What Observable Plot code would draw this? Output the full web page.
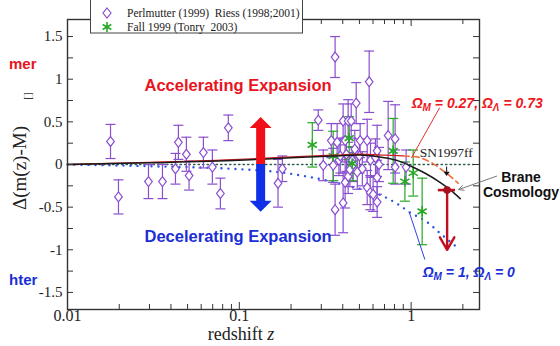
<!DOCTYPE html>
<html><head><meta charset="utf-8">
<script src="https://cdn.jsdelivr.net/npm/d3@7"></script>
<script src="https://cdn.jsdelivr.net/npm/@observablehq/plot@0.6"></script>
<style>
body{margin:0;background:#fff}
#chart{position:relative;width:560px;height:346px;overflow:hidden}
</style>
</head><body><div id="chart"></div>
<script>
// ---- data: Perlmutter / Riess supernovae (purple diamonds)
const perlZ = [0.0178,0.0198,0.0296,0.0357,0.0425,0.0442,0.0492,0.051,0.0618,0.0697,0.0776,0.0863,
  0.168,0.178,0.288,0.308,0.343,0.352,0.361,0.361,0.371,0.38,0.387,0.402,0.402,0.413,0.413,0.42,0.43,0.43,0.44,0.448,
  0.455,0.46,0.47,0.479,0.486,0.5,0.505,0.52,0.555,0.555,0.57,0.578,0.58,0.601,0.62,0.634,0.634,0.634,0.65,0.735,0.807,0.807,0.935];
const perlV = [0.27,-0.38,-0.20,-0.20,-0.05,0.26,0.12,-0.13,0.14,-0.03,-0.34,0.43,
  -0.22,-0.05,0.52,-0.01,0.28,-0.01,1.26,-0.53,0.26,0.05,0.1,0.51,-0.45,0.28,-0.21,0.12,0.51,-0.14,-0.06,0.51,
  0.05,0.0,0.18,0.72,-0.09,0.1,0.28,-0.05,0.28,-0.27,0.97,-0.33,0.05,-0.35,0.08,0.16,-0.15,-0.44,0.0,0.34,0.30,-0.03,-0.03];
const perlE = [0.2,0.2,0.2,0.2,0.18,0.2,0.2,0.17,0.18,0.2,0.18,0.15,
  0.28,0.15,0.12,0.18,0.2,0.2,0.24,0.3,0.22,0.18,0.2,0.2,0.35,0.25,0.3,0.2,0.25,0.2,0.2,0.2,
  0.15,0.2,0.22,0.24,0.2,0.2,0.2,0.2,0.25,0.2,0.36,0.2,0.2,0.2,0.22,0.3,0.2,0.18,0.2,0.4,0.4,0.2,0.2];
// ---- data: Tonry 2003 (green asterisks)
const tonZ = [0.266,0.352,0.436,0.454,0.786,0.92,1.028,1.159];
const tonV = [0.23,0.10,0.31,0.01,0.16,-0.2,-0.1,-0.55];
const tonE = [0.26,0.29,0.25,0.2,0.38,0.23,0.27,0.39];
// ---- model curves
const braneZ = [0.01,0.03,0.1,0.2,0.35,0.5,0.7,0.85,1.0,1.2,1.45,1.7,1.93];
const braneV = [0,0.02,0.05,0.08,0.10,0.11,0.08,0.04,-0.02,-0.1,-0.2,-0.3,-0.4];
const lcdmSolidZ = [0.01,0.03,0.1,0.2,0.35,0.5,0.7,0.9];
const lcdmSolidV = [0,0.025,0.06,0.09,0.11,0.12,0.11,0.1];
const lcdmDashZ = [0.9,1.07,1.34,1.6,1.88];
const lcdmDashV = [0.1,0.09,0.01,-0.1,-0.22];
const milneZ = [0.01,2.3];
const milneV = [0,0];
const edsZ = [0.01,0.03,0.09,0.17,0.31,0.45,0.63,0.86,0.98,1.23,1.5,1.85];
const edsV = [0,-0.02,-0.05,-0.09,-0.18,-0.26,-0.34,-0.48,-0.56,-0.67,-0.82,-0.97];
// SN1997ff
const snZ = [1.62], snV = [-0.30], snZlo = [1.43], snZhi = [1.80], snVlo = [-1.0];
// ticks
const xMajor = [0.01,0.1,1];
const xLabels = ["0.01","0.1","1"];
const xMinor = [0.02,0.03,0.04,0.05,0.06,0.07,0.08,0.09,0.2,0.3,0.4,0.5,0.6,0.7,0.8,0.9,2];
const yMajor = [-1.5,-1,-0.5,0,0.5,1,1.5];
const yLabels = ["-1.5","-1","-0.5","0","0.5","1","1.5"];
const yMinor = [-1.25,-0.75,-0.25,0.25,0.75,1.25];

const perl = perlZ.map((z,i)=>({z, v:perlV[i], e:perlE[i]}));
const ton = tonZ.map((z,i)=>({z, v:tonV[i], e:tonE[i]}));
const curve = (Z,V)=>Z.map((z,i)=>({z, v:V[i]}));

const W = 560, H = 346, mL = 67, mR = 81, mT = 19, mB = 37;
const fw = W-mL-mR, fh = H-mT-mB;
const serif = "'Liberation Serif','Times New Roman',serif";
const sans = "'Liberation Sans',Arial,sans-serif";
const purple = "#8a4fcf", green = "#27a827";

const capSym = {draw(ctx, size){ const r = Math.sqrt(size/Math.PI); ctx.moveTo(-r,0); ctx.lineTo(r,0); }};
const diaSym = {draw(ctx, size){ const r = Math.sqrt(size/Math.PI); const w = r*0.85, h = r*1.1;
  ctx.moveTo(0,-h); ctx.lineTo(w,0); ctx.lineTo(0,h); ctx.lineTo(-w,0); ctx.closePath(); }};

const plot = Plot.plot({
  width: W, height: H, marginLeft: mL, marginRight: mR, marginTop: mT, marginBottom: mB,
  x: {type: "log", domain: [0.01, 2.5], axis: null},
  y: {domain: [-1.7, 1.7], axis: null},
  style: {background: "white", overflow: "visible"},
  marks: [
    Plot.line(curve(milneZ, milneV), {x:"z", y:"v", stroke:"#2f5f50", strokeWidth:1.3, strokeDasharray:"1.5 3"}),
    Plot.line(curve(edsZ, edsV), {x:"z", y:"v", stroke:"#2a55e0", strokeWidth:2.4, strokeDasharray:"0 7", strokeLinecap:"round", curve:"monotone-x"}),
    Plot.ruleX(perl, {x:"z", y1:d=>d.v-d.e, y2:d=>d.v+d.e, stroke:purple, strokeWidth:1.2}),
    Plot.dot(perl, {x:"z", y:d=>d.v+d.e, symbol:capSym, r:5, stroke:purple, strokeWidth:1.2}),
    Plot.dot(perl, {x:"z", y:d=>d.v-d.e, symbol:capSym, r:5, stroke:purple, strokeWidth:1.2}),
    Plot.ruleX(ton, {x:"z", y1:d=>d.v-d.e, y2:d=>d.v+d.e, stroke:green, strokeWidth:1.2}),
    Plot.dot(ton, {x:"z", y:d=>d.v+d.e, symbol:capSym, r:5, stroke:green, strokeWidth:1.2}),
    Plot.dot(ton, {x:"z", y:d=>d.v-d.e, symbol:capSym, r:5, stroke:green, strokeWidth:1.2}),
    Plot.dot(perl, {x:"z", y:"v", symbol:diaSym, r:4.5, stroke:purple, fill:"white", strokeWidth:1.2}),
    Plot.dot(ton, {x:"z", y:"v", symbol:"asterisk", r:5, stroke:green, strokeWidth:1.6}),
    Plot.line(curve(lcdmSolidZ, lcdmSolidV), {x:"z", y:"v", stroke:"#cc2222", strokeWidth:1.3, curve:"monotone-x"}),
    Plot.line(curve(lcdmDashZ, lcdmDashV), {x:"z", y:"v", stroke:"#f06a35", strokeWidth:1.6, strokeDasharray:"6 4", curve:"monotone-x"}),
    Plot.line(curve(braneZ, braneV), {x:"z", y:"v", stroke:"#1a1a1a", strokeWidth:1.5, curve:"monotone-x"}),
    Plot.link(snZ, {x1:(d,i)=>snZlo[i], x2:(d,i)=>snZhi[i], y1:(d,i)=>snV[i], y2:(d,i)=>snV[i], stroke:"#c01020", strokeWidth:2.6}),
    Plot.arrow(snZ, {x1:d=>d, x2:d=>d, y1:(d,i)=>snV[i], y2:(d,i)=>snVlo[i], stroke:"#c01020", strokeWidth:2.4, headLength:9}),
    Plot.dot(snZ, {x:d=>d, y:(d,i)=>snV[i], r:3.8, fill:"#a8101c"}),
    Plot.frame({stroke:"#333", strokeWidth:1.4}),
    Plot.tickX(xMajor, {x:d=>d, insetTop: fh-7, stroke:"#333"}),
    Plot.tickX(xMinor, {x:d=>d, insetTop: fh-5, stroke:"#333"}),
    Plot.tickX(xMajor, {x:d=>d, insetBottom: fh-7, stroke:"#333"}),
    Plot.tickX(xMinor, {x:d=>d, insetBottom: fh-5, stroke:"#333"}),
    Plot.tickY(yMajor.concat(yMinor), {y:d=>d, insetRight: fw-6, stroke:"#333"}),
    Plot.tickY(yMajor.concat(yMinor), {y:d=>d, insetLeft: fw-6, stroke:"#333"}),
    Plot.text(xMajor, {x:d=>d, frameAnchor:"bottom", dy:11, text:(d,i)=>xLabels[i], fontSize:16, fontFamily:serif, fill:"#222"}),
    Plot.text(yMajor, {y:d=>d, frameAnchor:"left", dx:-5, textAnchor:"end", text:(d,i)=>yLabels[i], fontSize:15, fontFamily:serif, fill:"#222"})
  ]
});
document.getElementById("chart").appendChild(plot);

const sx = plot.scale("x"), sy = plot.scale("y");
const X = z => sx.apply(z), Y = v => sy.apply(v);
const svg = d3.select(plot);
const ann = svg.append("g").attr("text-anchor","start");

const xt = ann.append("text").attr("x", 241).attr("y", 340).attr("text-anchor","middle")
  .attr("font-family", serif).attr("font-size", 18).attr("fill","#222");
xt.append("tspan").text("redshift ");
xt.append("tspan").attr("font-style","italic").text("z");
ann.append("text").attr("transform","translate(26,168) rotate(-90)").attr("text-anchor","middle")
  .attr("font-family", serif).attr("font-size", 19).attr("fill","#222").text("Δ(m(z)-M)");
ann.append("text").attr("transform","translate(31,96) rotate(-90)").attr("text-anchor","middle")
  .attr("font-family", serif).attr("font-size", 11).attr("fill","#333").text("[]");

ann.append("text").attr("x",9).attr("y",69).attr("text-anchor","start").attr("font-family",sans).attr("font-weight","bold")
  .attr("font-size",15).attr("fill","#e8141e").text("mer");
ann.append("text").attr("x",9).attr("y",285).attr("text-anchor","start").attr("font-family",sans).attr("font-weight","bold")
  .attr("font-size",15).attr("fill","#1a2fd6").text("hter");

const accZ = 0.099;
ann.append("text").attr("x",X(accZ)).attr("y",Y(0.92)).attr("dy","0.35em").attr("text-anchor","middle")
  .attr("font-family",sans).attr("font-weight","bold").attr("font-size",16.5).attr("fill","#e8141e").text("Accelerating Expansion");
ann.append("text").attr("x",X(accZ)).attr("y",Y(-0.85)).attr("dy","0.35em").attr("text-anchor","middle")
  .attr("font-family",sans).attr("font-weight","bold").attr("font-size",16.5).attr("fill","#1a2fd6").text("Decelerating Expansion");

const ax = X(0.134), a0 = Y(0), aTop = Y(0.55), aBot = Y(-0.56);
const sw = 4.5, hw = 11, hl = 11;
ann.append("path").attr("fill","#f0101a")
  .attr("d",`M${ax-sw},${a0}V${aTop+hl}H${ax-hw}L${ax},${aTop}L${ax+hw},${aTop+hl}H${ax+sw}V${a0}Z`);
ann.append("path").attr("fill","#1030e8")
  .attr("d",`M${ax-sw},${a0}V${aBot-hl}H${ax-hw}L${ax},${aBot}L${ax+hw},${aBot-hl}H${ax+sw}V${a0}Z`);

function omega(x, y, color, a, b){
  const t = ann.append("text").attr("x",x).attr("y",y).attr("text-anchor","start").attr("font-family",sans).attr("font-weight","bold")
    .attr("font-style","italic").attr("font-size",14).attr("fill",color);
  t.append("tspan").text("Ω");
  t.append("tspan").attr("font-size",10).attr("dy",3).text("M");
  t.append("tspan").attr("dy",-3).text(" = " + a + ", Ω");
  t.append("tspan").attr("font-size",10).attr("dy",3).text("Λ");
  t.append("tspan").attr("dy",-3).text(" = " + b);
}
omega(X(1.014), Y(0.71)+5, "#ee1822", "0.27", "0.73");
omega(X(1.175), Y(-1.27)+5, "#1a2fd6", "1", "0");
ann.append("line").attr("x1",X(1.476)).attr("y1",Y(0.66)).attr("x2",X(1.01)).attr("y2",Y(0.07)).attr("stroke","#e83030").attr("stroke-width",1);
ann.append("line").attr("x1",X(1.21)).attr("y1",Y(-1.12)).attr("x2",X(0.98)).attr("y2",Y(-0.56)).attr("stroke","#3040e0").attr("stroke-width",1);

ann.append("text").attr("x",X(1.13)).attr("y",Y(0.08)).attr("text-anchor","start").attr("font-family",serif).attr("font-size",13.5).attr("fill","#222").text("SN1997ff");
const snx = X(1.62);
ann.append("line").attr("x1",snx).attr("y1",Y(-0.03)).attr("x2",snx).attr("y2",Y(-0.11)).attr("stroke","#111").attr("stroke-width",1);
ann.append("path").attr("fill","#111").attr("d",`M${snx-3},${Y(-0.09)}L${snx+3},${Y(-0.09)}L${snx},${Y(-0.14)}Z`);

ann.append("text").attr("x",521).attr("y",182).attr("text-anchor","middle").attr("font-family",sans).attr("font-weight","bold").attr("font-size",14).attr("fill","#111").text("Brane");
ann.append("text").attr("x",521).attr("y",197).attr("text-anchor","middle").attr("font-family",sans).attr("font-weight","bold").attr("font-size",14).attr("fill","#111").text("Cosmology");
const bx1 = 497, by1 = 176, bx2 = X(1.9), by2 = Y(-0.3);
ann.append("line").attr("x1",bx1).attr("y1",by1).attr("x2",bx2).attr("y2",by2).attr("stroke","#777").attr("stroke-width",1);
{
  const ang = Math.atan2(by2-by1, bx2-bx1), L = 6;
  const p1 = [bx2 - L*Math.cos(ang-0.45), by2 - L*Math.sin(ang-0.45)];
  const p2 = [bx2 - L*Math.cos(ang+0.45), by2 - L*Math.sin(ang+0.45)];
  ann.append("path").attr("fill","none").attr("stroke","#777").attr("d",`M${p1}L${bx2},${by2}L${p2}`);
}

const lg = ann.append("g");
lg.append("rect").attr("x",90.5).attr("y",-1).attr("width",212).attr("height",34).attr("fill","white").attr("stroke","#444").attr("stroke-width",1);
lg.append("path").attr("d","M107,8L111,13L107,18L103,13Z").attr("fill","white").attr("stroke",purple).attr("stroke-width",1.2);
lg.append("path").attr("d", d3.symbol(d3.symbolAsterisk, 70)()).attr("transform","translate(107,27)").attr("fill","none").attr("stroke",green).attr("stroke-width",1.6);
lg.append("text").attr("x",127).attr("y",17).attr("text-anchor","start").attr("font-family",serif).attr("font-size",11.5).attr("fill","#222").text("Perlmutter (1999)  Riess (1998;2001)");
lg.append("text").attr("x",127).attr("y",31).attr("text-anchor","start").attr("font-family",serif).attr("font-size",11.5).attr("fill","#222").text("Fall 1999 (Tonry  2003)");
</script>
</body></html>
